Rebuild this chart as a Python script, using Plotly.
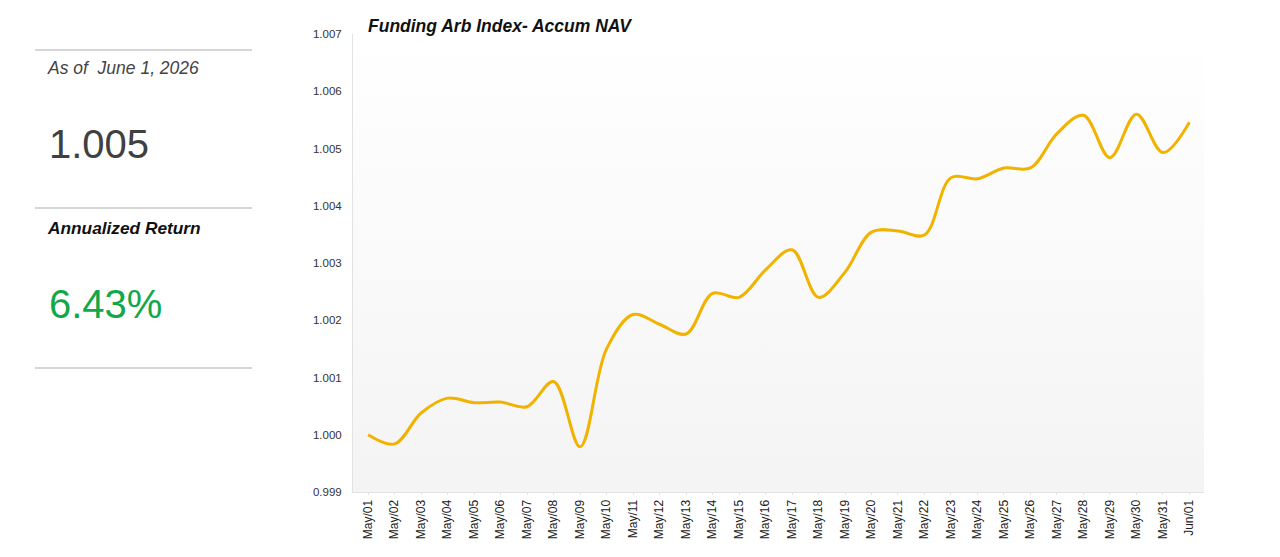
import plotly.graph_objects as go

# daily accumulated NAV, May/01 .. Jun/01
dates = ["May/%02d" % d for d in range(1, 32)] + ["Jun/01"]
nav = [
    1.00000, 0.99984, 1.00038, 1.00064, 1.00056, 1.00057, 1.00049, 1.00093,
    0.99979, 1.00150, 1.00210, 1.00193, 1.00176, 1.00247, 1.00240, 1.00288,
    1.00323, 1.00240, 1.00284, 1.00354, 1.00356, 1.00349, 1.00449, 1.00447,
    1.00466, 1.00466, 1.00526, 1.00558, 1.00484, 1.00560, 1.00493, 1.00546,
]
y_ticks = [0.999, 1.000, 1.001, 1.002, 1.003, 1.004, 1.005, 1.006, 1.007]

as_of = "As of  June 1, 2026"
latest_nav = "1.005"
annual_return = "6.43%"

x_range = [-0.57, len(dates) - 1 + 0.55]
y_range = [0.999, 1.007]
xs = list(range(len(dates)))

FONT = "Arial, Liberation Sans, sans-serif"

# page is shown with the browser's 8px body margin
OFF = 8
W, H = 1264, 541
L, R, T, B = 353 - OFF, W - (1204 - OFF), 34 - OFF, H - (492 - OFF)

fig = go.Figure()

# light vertical gradient behind the plot area
fig.add_trace(go.Scatter(
    x=[x_range[0], x_range[1], x_range[1], x_range[0], x_range[0]],
    y=[y_range[0], y_range[0], y_range[1], y_range[1], y_range[0]],
    fill="toself",
    fillgradient=dict(type="vertical",
                      colorscale=[[0, "#f4f4f4"], [1, "#ffffff"]]),
    line=dict(width=0),
    mode="lines",
    hoverinfo="skip",
    showlegend=False,
))

fig.add_trace(go.Scatter(
    x=xs, y=nav,
    mode="lines",
    line=dict(color="#f2b200", width=3, shape="spline", smoothing=1.0),
    showlegend=False,
))

fig.update_layout(
    width=W, height=H,
    margin=dict(l=L, r=R, t=T, b=B, autoexpand=False),
    paper_bgcolor="white",
    plot_bgcolor="white",
    font=dict(family=FONT, color="#333333", size=11),
    xaxis=dict(
        range=x_range,
        tickvals=xs, ticktext=dates,
        tickangle=-90,
        showgrid=False, zeroline=False,
        showline=True, linecolor="#e2e2e2", linewidth=1,
        ticks="outside", ticklen=2, tickcolor="#e2e2e2",
        tickfont=dict(size=12, color="#222222"),
    ),
    yaxis=dict(
        range=y_range,
        tickvals=y_ticks, ticktext=["%.3f" % v for v in y_ticks],
        showgrid=True, gridcolor="#efefef",
        zeroline=False,
        showline=True, linecolor="#e2e2e2", linewidth=1,
        ticks="outside", ticklen=8, tickcolor="rgba(0,0,0,0)",
        tickfont=dict(size=11.5, color="#333333"),
    ),
)

pw, ph = W - L - R, H - T - B


def px(xp):
    return (xp - OFF - L) / pw


def py(yp):
    return (H - B - (yp - OFF)) / ph


# chart title
fig.add_annotation(
    text="<b><i>Funding Arb Index- Accum NAV</i></b>",
    xref="paper", yref="paper", x=px(366), y=py(26), xanchor="left", yanchor="middle",
    showarrow=False, font=dict(size=17.5, color="#111111", family=FONT),
)

# left summary panel
for yp in [50, 208, 368]:
    fig.add_shape(type="line", xref="paper", yref="paper",
                  x0=px(35), x1=px(252), y0=py(yp), y1=py(yp),
                  line=dict(color="#c8c8c8", width=1.5))

fig.add_annotation(text="<i>%s</i>" % as_of, xref="paper", yref="paper",
                   x=px(45), y=py(68), xanchor="left", yanchor="middle",
                   showarrow=False, font=dict(size=17.5, color="#444444", family=FONT))
fig.add_annotation(text=latest_nav, xref="paper", yref="paper",
                   x=px(47), y=py(144), xanchor="left", yanchor="middle",
                   showarrow=False, font=dict(size=40, color="#404040", family=FONT))
fig.add_annotation(text="<b><i>Annualized Return</i></b>", xref="paper", yref="paper",
                   x=px(45), y=py(228), xanchor="left", yanchor="middle",
                   showarrow=False, font=dict(size=17.3, color="#111111", family=FONT))
fig.add_annotation(text=annual_return, xref="paper", yref="paper",
                   x=px(47), y=py(304), xanchor="left", yanchor="middle",
                   showarrow=False, font=dict(size=40, color="#12a84a", family=FONT))

fig.write_html("out.html")
